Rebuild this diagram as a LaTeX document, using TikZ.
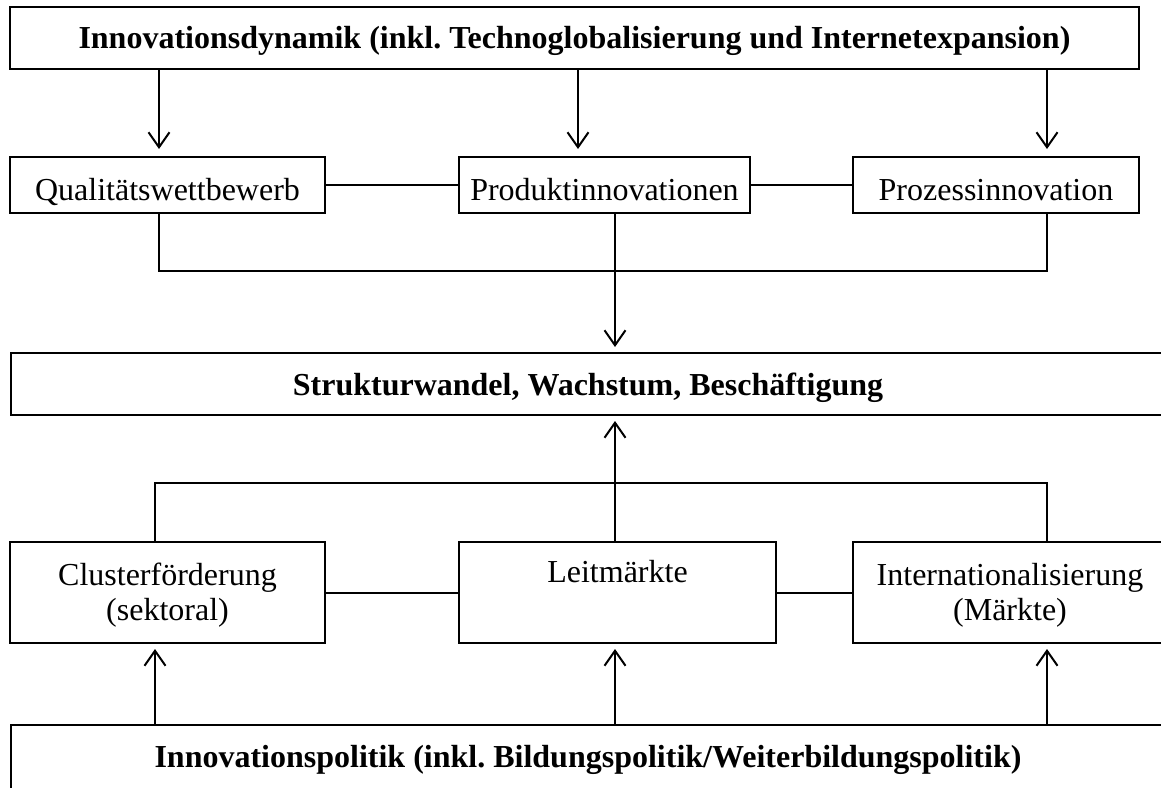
\documentclass[tikz,border=0pt]{standalone}
\usepackage{fontspec}
\setmainfont{Liberation Serif}
\usetikzlibrary{arrows.meta}
\frenchspacing
\begin{document}
\begin{tikzpicture}[x=1pt,y=-1pt,
  box/.style={draw, line width=2pt, inner sep=0pt, align=center, font=\fontsize{32}{35}\selectfont},
  bbox/.style={box, font=\fontsize{32}{35}\selectfont\bfseries},
  conn/.style={line width=2pt},
  arr/.style={line width=2pt, -{Straight Barb[length=15pt,width=21pt,line width=2pt]}, shorten >=5pt}]
\useasboundingbox (0,0) rectangle (1161,787);
% boxes
\node[bbox, text height=25pt, text depth=5pt, minimum width=1129pt, minimum height=62pt] (top) at (574.5,38) {Innovationsdynamik (inkl.\ Technoglobalisierung und Internetexpansion)};
\node[box, text height=36pt, text depth=6pt, minimum width=315pt, minimum height=56pt] (qual) at (167.5,185) {Qualitätswettbewerb};
\node[box, text height=36pt, text depth=6pt, minimum width=291pt, minimum height=56pt] (prod) at (604.5,185) {Produktinnovationen};
\node[box, text height=36pt, text depth=6pt, minimum width=286pt, minimum height=56pt] (proz) at (996,185) {Prozessinnovation};
\node[bbox, text height=26pt, text depth=4pt, minimum width=1154pt, minimum height=62pt] (struk) at (588,384) {Strukturwandel, Wachstum, Beschäftigung};
\node[box, text height=60pt, text depth=5pt, minimum width=315pt, minimum height=101pt] (clus) at (167.5,592.5) {Clusterförderung\\(sektoral)};
\node[box, text height=5pt, text depth=26pt, minimum width=317pt, minimum height=101pt] (leit) at (617.5,592.5) {Leitmärkte};
\node[box, text height=60pt, text depth=5pt, minimum width=314pt, minimum height=101pt] (intl) at (1010,592.5) {Internationalisierung\\(Märkte)};
\node[bbox, text height=22pt, text depth=8pt, minimum width=1154pt, minimum height=70pt] (pol) at (588,760) {Innovationspolitik (inkl.\ Bildungspolitik/Weiterbildungspolitik)};
% x positions of connectors
\coordinate (xa) at (159,0);
\coordinate (xb) at (578,0);
\coordinate (xc) at (615,0);
\coordinate (xd) at (1047,0);
\coordinate (xe) at (155,0);
\coordinate (jtop) at (615,271);
\coordinate (jbot) at (615,483);
% top arrows
\draw[arr, shorten >=7pt] (top.south -| xa) -- (qual.north -| xa);
\draw[arr, shorten >=7pt] (top.south -| xb) -- (prod.north -| xb);
\draw[arr, shorten >=7pt] (top.south -| xd) -- (proz.north -| xd);
% row 2 links
\draw[conn] (qual.east) -- (prod.west);
\draw[conn] (prod.east) -- (proz.west);
\draw[conn] (qual.south -| xa) |- (jtop) -| (proz.south -| xd);
\draw[arr] (prod.south -| xc) -- (struk.north -| xc);
% row 4 links
\draw[arr] (leit.north -| xc) -- (struk.south -| xc);
\draw[conn] (clus.north -| xe) |- (jbot) -| (intl.north -| xd);
\draw[conn] (clus.east) -- (leit.west);
\draw[conn] (leit.east) -- (intl.west);
% bottom arrows
\draw[arr] (pol.north -| xe) -- (clus.south -| xe);
\draw[arr] (pol.north -| xc) -- (leit.south -| xc);
\draw[arr] (pol.north -| xd) -- (intl.south -| xd);
\end{tikzpicture}
\end{document}
